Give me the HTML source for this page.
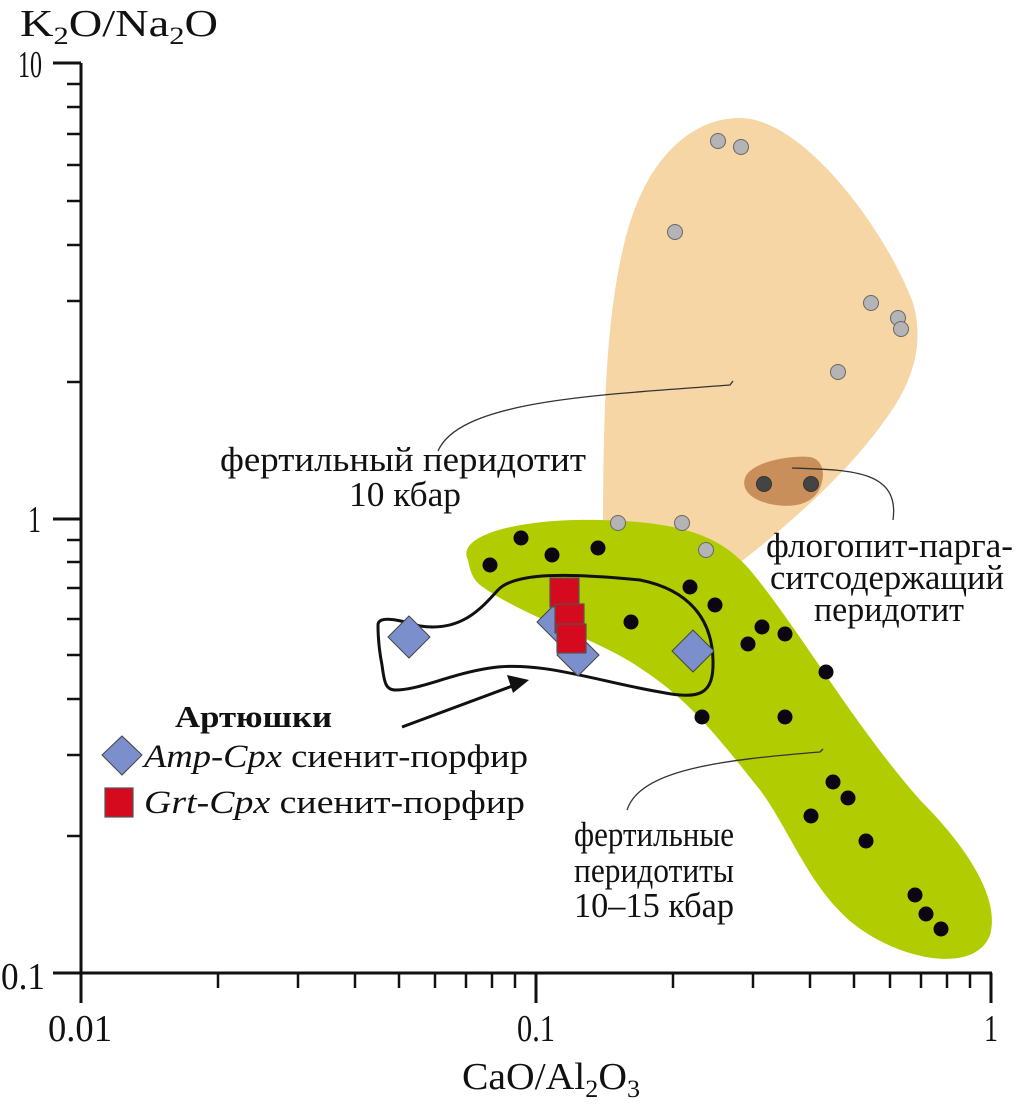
<!DOCTYPE html>
<html><head><meta charset="utf-8"><style>
html,body{margin:0;padding:0;background:#fff;}
svg{display:block;}
text{font-family:"Liberation Serif","Noto Serif CJK SC",serif;fill:#111;}
</style></head><body>
<svg width="1021" height="1108" viewBox="0 0 1021 1108" xmlns="http://www.w3.org/2000/svg">
<path d="M603,545 C603,420 605,320 625,240 C645,160 690,118 740,118 C800,118 880,220 912,300 C925,340 915,380 885,420 C850,470 790,525 730,570 L603,570 Z" fill="#f7d6a6"/>
<path d="M745,478 C750,462 790,455 810,457 C825,460 826,478 818,492 C808,506 790,508 770,504 C752,500 741,490 745,478 Z" fill="#c98f5a"/>
<path d="M468,560 C455,535 520,518 600,520 C680,522 720,535 750,570 C800,630 850,720 920,800 C970,850 1000,900 990,935 C975,975 900,960 855,925 C810,890 790,830 760,790 C720,740 690,700 640,668 C600,640 520,615 480,585 C472,578 470,570 468,560 Z" fill="#b1cc00"/>
<path d="M438,451 C460,400 600,395 730,385 L733,381" fill="none" stroke="#333" stroke-width="1.3"/>
<path d="M792,468 C850,470 900,470 893,520" fill="none" stroke="#333" stroke-width="1.3"/>
<path d="M627,810 C640,770 720,760 820,752 L823,749" fill="none" stroke="#333" stroke-width="1.3"/>
<path d="M378,625 C378,615 400,620 420,626 C460,632 480,610 498,590 C515,572 570,573 640,580 C690,590 712,620 713,660 C714,695 700,700 660,692 C600,682 540,660 490,668 C450,674 420,690 395,690 C385,690 384,680 382,665 C379,650 378,635 378,625 Z" fill="none" stroke="#111" stroke-width="3"/>
<line x1="402" y1="727" x2="515" y2="685" stroke="#111" stroke-width="3"/>
<polygon points="529,680 507,675 513,693" fill="#111"/>
<g stroke="#111" stroke-width="3">
<line x1="81" y1="63" x2="81" y2="1003"/>
<line x1="53" y1="973" x2="992" y2="973"/>
<line x1="53" y1="63" x2="81" y2="63"/>
<line x1="53" y1="519" x2="81" y2="519"/>
<line x1="536" y1="973" x2="536" y2="1003"/>
<line x1="991" y1="973" x2="991" y2="1003"/>
</g>
<g stroke="#111" stroke-width="2.5">
<line x1="67" y1="836" x2="81" y2="836"/><line x1="67" y1="755" x2="81" y2="755"/><line x1="67" y1="699" x2="81" y2="699"/><line x1="67" y1="655" x2="81" y2="655"/><line x1="67" y1="619" x2="81" y2="619"/><line x1="67" y1="588" x2="81" y2="588"/><line x1="67" y1="562" x2="81" y2="562"/><line x1="67" y1="540" x2="81" y2="540"/>
<line x1="67" y1="382" x2="81" y2="382"/><line x1="67" y1="301" x2="81" y2="301"/><line x1="67" y1="245" x2="81" y2="245"/><line x1="67" y1="201" x2="81" y2="201"/><line x1="67" y1="165" x2="81" y2="165"/><line x1="67" y1="134" x2="81" y2="134"/><line x1="67" y1="107" x2="81" y2="107"/><line x1="67" y1="84" x2="81" y2="84"/>
<line x1="218" y1="973" x2="218" y2="988"/><line x1="298" y1="973" x2="298" y2="988"/><line x1="355" y1="973" x2="355" y2="988"/><line x1="399" y1="973" x2="399" y2="988"/><line x1="435" y1="973" x2="435" y2="988"/><line x1="466" y1="973" x2="466" y2="988"/><line x1="492" y1="973" x2="492" y2="988"/><line x1="515" y1="973" x2="515" y2="988"/>
<line x1="673" y1="973" x2="673" y2="988"/><line x1="753" y1="973" x2="753" y2="988"/><line x1="810" y1="973" x2="810" y2="988"/><line x1="854" y1="973" x2="854" y2="988"/><line x1="890" y1="973" x2="890" y2="988"/><line x1="921" y1="973" x2="921" y2="988"/><line x1="947" y1="973" x2="947" y2="988"/><line x1="970" y1="973" x2="970" y2="988"/>
</g>
<g font-size="38">
<text x="18" y="77" textLength="24" lengthAdjust="spacingAndGlyphs">10</text>
<text x="28" y="532" textLength="13" lengthAdjust="spacingAndGlyphs">1</text>
<text x="1" y="989" textLength="44" lengthAdjust="spacingAndGlyphs">0.1</text>
<text x="48" y="1041" textLength="64" lengthAdjust="spacingAndGlyphs">0.01</text>
<text x="517" y="1041" textLength="38" lengthAdjust="spacingAndGlyphs">0.1</text>
<text x="984" y="1041" textLength="14" lengthAdjust="spacingAndGlyphs">1</text>
<text x="20" y="36" textLength="198" lengthAdjust="spacingAndGlyphs">K<tspan font-size="25" dy="8">2</tspan><tspan dy="-8">O/Na</tspan><tspan font-size="25" dy="8">2</tspan><tspan dy="-8">O</tspan></text>
<text x="462" y="1089" textLength="178" lengthAdjust="spacingAndGlyphs">CaO/Al<tspan font-size="25" dy="8">2</tspan><tspan dy="-8">O</tspan><tspan font-size="25" dy="8">3</tspan></text>
</g>
<g font-size="35">
<text x="220" y="471" textLength="366" lengthAdjust="spacingAndGlyphs">фертильный перидотит</text>
<text x="349" y="506" textLength="112" lengthAdjust="spacingAndGlyphs">10 кбар</text>
<text x="766" y="557" textLength="247" lengthAdjust="spacingAndGlyphs">флогопит-парга-</text>
<text x="770" y="589" textLength="234" lengthAdjust="spacingAndGlyphs">ситсодержащий</text>
<text x="814" y="621" textLength="150" lengthAdjust="spacingAndGlyphs">перидотит</text>
<text x="574" y="846" textLength="160" lengthAdjust="spacingAndGlyphs">фертильные</text>
<text x="574" y="882" textLength="160" lengthAdjust="spacingAndGlyphs">перидотиты</text>
<text x="574" y="917" textLength="160" lengthAdjust="spacingAndGlyphs">10–15 кбар</text>
</g>
<g fill="#0c0612">
<circle cx="490" cy="565" r="7.5"/><circle cx="521" cy="538" r="7.5"/><circle cx="552" cy="555" r="7.5"/><circle cx="598" cy="548" r="7.5"/><circle cx="690" cy="587" r="7.5"/><circle cx="715" cy="605" r="7.5"/><circle cx="631" cy="622" r="7.5"/><circle cx="762" cy="627" r="7.5"/><circle cx="785" cy="634" r="7.5"/><circle cx="748" cy="644" r="7.5"/><circle cx="826" cy="672" r="7.5"/><circle cx="702" cy="717" r="7.5"/><circle cx="785" cy="717" r="7.5"/><circle cx="833" cy="782" r="7.5"/><circle cx="848" cy="798" r="7.5"/><circle cx="811" cy="816" r="7.5"/><circle cx="866" cy="841" r="7.5"/><circle cx="915" cy="895" r="7.5"/><circle cx="926" cy="914" r="7.5"/><circle cx="941" cy="929" r="7.5"/>
</g>
<g fill="#b4b4b6" stroke="#666" stroke-width="1">
<circle cx="718" cy="141" r="7.5"/><circle cx="741" cy="147" r="7.5"/><circle cx="675" cy="232" r="7.5"/><circle cx="871" cy="303" r="7.5"/><circle cx="898" cy="318" r="7.5"/><circle cx="901" cy="329" r="7.5"/><circle cx="838" cy="372" r="7.5"/><circle cx="618" cy="523" r="7.5"/><circle cx="682" cy="523" r="7.5"/><circle cx="706" cy="550" r="7.5"/>
</g>
<g fill="#444" stroke="#333" stroke-width="1">
<circle cx="764" cy="484" r="7.5"/><circle cx="811" cy="484" r="7.5"/>
</g>
<g fill="#7a8fcb" stroke="#444" stroke-width="1">
<polygon points="409,616 430,637 409,658 388,637"/>
<polygon points="558,601 579,622 558,643 537,622"/>
<polygon points="578,634 599,655 578,676 557,655"/>
<polygon points="693,630 714,651 693,672 672,651"/>
<polygon points="122,736 142,755 122,775 102,755"/>
</g>
<g fill="#d50a1e" stroke="#555" stroke-width="1.2">
<rect x="550" y="578" width="29" height="29"/>
<rect x="555" y="604" width="29" height="29"/>
<rect x="557" y="624" width="29" height="29"/>
<rect x="105" y="788" width="28" height="29"/>
</g>
<text x="175" y="727" font-size="31" font-weight="bold" textLength="157" lengthAdjust="spacingAndGlyphs">Артюшки</text>
<text x="144" y="767" font-size="33" textLength="384" lengthAdjust="spacingAndGlyphs"><tspan font-style="italic">Amp-Cpx</tspan> сиенит-порфир</text>
<text x="144" y="813" font-size="33" textLength="381" lengthAdjust="spacingAndGlyphs"><tspan font-style="italic">Grt-Cpx</tspan> сиенит-порфир</text>
</svg>
</body></html>
